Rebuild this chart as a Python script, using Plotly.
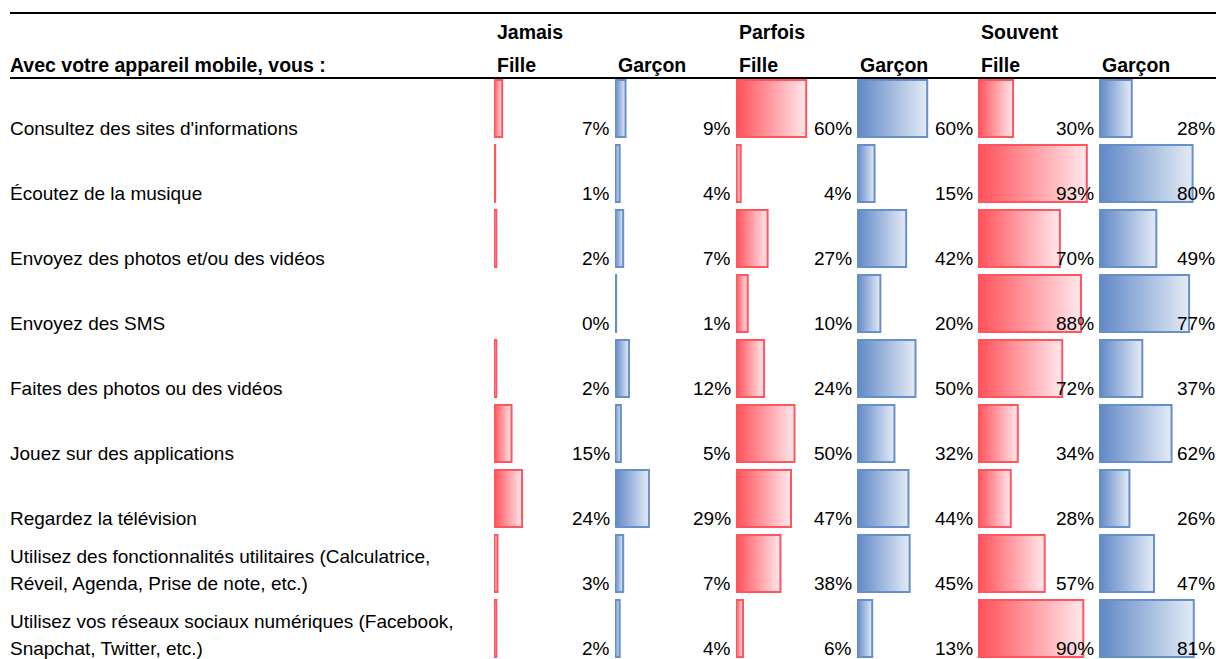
import plotly.graph_objects as go

# ---------------- data ----------------
categories = [
    "Consultez des sites d'informations",
    "Écoutez de la musique",
    "Envoyez des photos et/ou des vidéos",
    "Envoyez des SMS",
    "Faites des photos ou des vidéos",
    "Jouez sur des applications",
    "Regardez la télévision",
    "Utilisez des fonctionnalités utilitaires (Calculatrice,\nRéveil, Agenda, Prise de note, etc.)",
    "Utilisez vos réseaux sociaux numériques (Facebook,\nSnapchat, Twitter, etc.)",
]
groups = ["Jamais", "Parfois", "Souvent"]
genders = ["Fille", "Garçon"]
jamais_fille = [7, 1, 2, 0, 2, 15, 24, 3, 2]
jamais_garcon = [9, 4, 7, 1, 12, 5, 29, 7, 4]
parfois_fille = [60, 4, 27, 10, 24, 50, 47, 38, 6]
parfois_garcon = [60, 15, 42, 20, 50, 32, 44, 45, 13]
souvent_fille = [30, 93, 70, 88, 72, 34, 28, 57, 90]
souvent_garcon = [28, 80, 49, 77, 37, 62, 26, 47, 81]
header_title = "Avec votre appareil mobile, vous :"

series = [jamais_fille, jamais_garcon, parfois_fille, parfois_garcon, souvent_fille, souvent_garcon]

# ---------------- layout / style ----------------
W, H = 1216, 659
FONT = "Liberation Sans, Arial, sans-serif"
FS = 19
FS_B = 19.5
col_left_px = [494, 615, 736, 857, 978, 1099]
col_w_px = 121
px_per_pct = 1.17
label_right_px = 118
row0_center_px = 108.5
pitch_px = 65.0
bar_h = 57.0 / pitch_px

styles = {
    "Fille": dict(c0="rgb(255,80,88)", c1="rgb(255,232,236)", border="rgb(255,85,95)"),
    "Garçon": dict(c0="rgb(95,135,198)", c1="rgb(228,235,246)", border="rgb(103,143,202)"),
}


def py(px):
    return 1 - px / H


fig = go.Figure()
annotations = []
layout_axes = {}

for k, vals in enumerate(series):
    gender = genders[k % 2]
    st = styles[gender]
    axname = "xaxis" if k == 0 else f"xaxis{k+1}"
    xref = "x" if k == 0 else f"x{k+1}"
    d0 = col_left_px[k] / W
    d1 = min(1.0, (col_left_px[k] + col_w_px) / W)
    layout_axes[axname] = dict(domain=[d0, d1], range=[0, (d1 - d0) * W / px_per_pct],
                               visible=False, anchor="y", fixedrange=True)
    label_x = min(col_left_px[k] + label_right_px, W + 0.5) / W
    for i, v in enumerate(vals):
        if v > 0:
            y0, y1 = i - bar_h / 2, i + bar_h / 2
            fig.add_trace(go.Scatter(
                x=[0, v, v, 0, 0], y=[y0, y0, y1, y1, y0],
                xaxis=xref, yaxis="y", mode="lines", fill="toself",
                fillgradient=dict(type="horizontal", colorscale=[[0, st["c0"]], [1, st["c1"]]],
                                  start=0, stop=v),
                line=dict(color=st["border"], width=2),
                hoverinfo="skip", showlegend=False,
            ))
        annotations.append(dict(
            x=label_x, xref="paper", y=i + 0.3, yref="y",
            text=f"{v}%", showarrow=False, xanchor="right", yanchor="middle",
            font=dict(family=FONT, size=FS, color="black"),
        ))
    # header gender
    annotations.append(dict(
        x=(col_left_px[k] + 1) / W, xref="paper", y=py(65), yref="paper",
        text=f"<b>{gender}</b>", showarrow=False, xanchor="left", yanchor="middle",
        font=dict(family=FONT, size=FS_B, color="black"),
    ))
    if k % 2 == 0:
        annotations.append(dict(
            x=(col_left_px[k] + 1) / W, xref="paper", y=py(32), yref="paper",
            text=f"<b>{groups[k // 2]}</b>", showarrow=False, xanchor="left", yanchor="middle",
            font=dict(family=FONT, size=FS_B, color="black"),
        ))

# category labels
line_step = 27.0 / pitch_px
for i, cat in enumerate(categories):
    lines = cat.split("\n")
    n = len(lines)
    for j, ln in enumerate(lines):
        annotations.append(dict(
            x=8 / W, xref="paper", y=i + 0.3 - (n - 1 - j) * line_step, yref="y",
            text=ln, showarrow=False, xanchor="left", yanchor="middle",
            font=dict(family=FONT, size=FS, color="black"),
        ))

annotations.append(dict(
    x=8 / W, xref="paper", y=py(65), yref="paper",
    text=f"<b>{header_title}</b>", showarrow=False, xanchor="left", yanchor="middle",
    font=dict(family=FONT, size=FS_B, color="black"),
))

shapes = [
    dict(type="line", xref="paper", yref="paper", x0=10 / W, x1=1, y0=py(13), y1=py(13),
         line=dict(color="black", width=2)),
    dict(type="line", xref="paper", yref="paper", x0=10 / W, x1=1, y0=py(78), y1=py(78),
         line=dict(color="black", width=2)),
]

fig.update_layout(
    width=W, height=H,
    margin=dict(l=0, r=0, t=0, b=0),
    paper_bgcolor="white", plot_bgcolor="white",
    showlegend=False,
    yaxis=dict(domain=[0, 1], range=[(H - row0_center_px) / pitch_px, (0 - row0_center_px) / pitch_px],
               visible=False, fixedrange=True),
    annotations=annotations,
    shapes=shapes,
    **layout_axes,
)

fig.write_html(
    "out.html",
    config={"displayModeBar": False},
    post_script="document.body.style.margin='0';document.body.style.overflow='hidden';",
)
